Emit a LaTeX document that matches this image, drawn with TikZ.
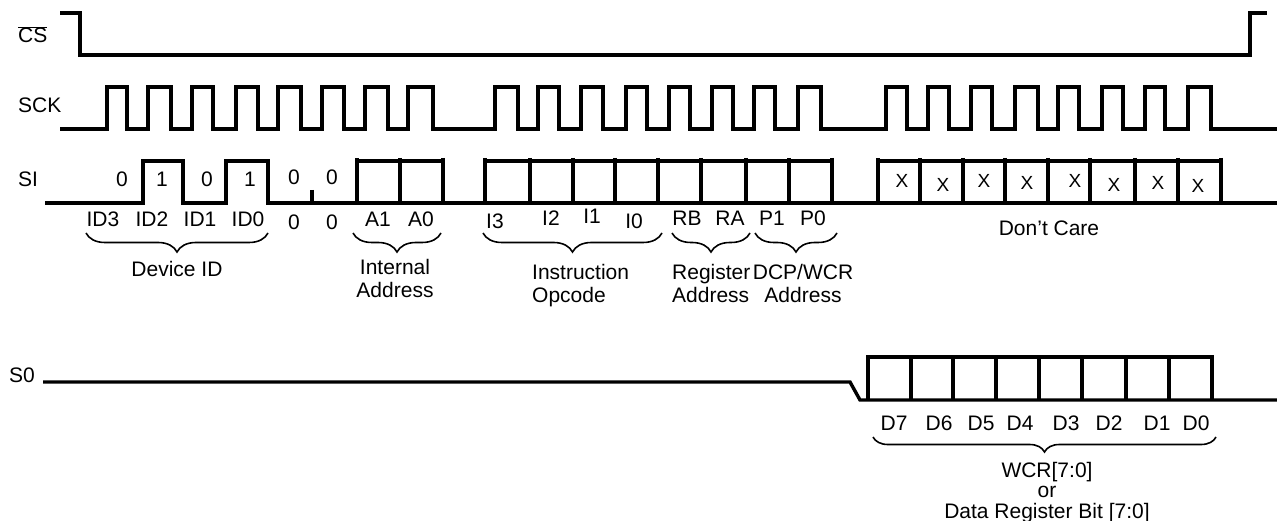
\documentclass[tikz,border=0pt]{standalone}
\usepackage{fontspec}
\setmainfont{Liberation Sans}
\usetikzlibrary{decorations.pathreplacing}

\tikzset{
	wave/.style={line width=3.4pt},
	lbl/.style={font=\fontsize{21}{23}\selectfont,inner sep=0pt,anchor=base},
	brc/.style={decorate,decoration={brace,mirror,amplitude=#1},line width=1.6pt},
}

\begin{document}
\begin{tikzpicture}[x=1pt,y=-1pt]
	\useasboundingbox (0,0) rectangle (1277,521);

	% signal names
	\node[lbl,anchor=base west](csName) at (18,43){$\overline{\hbox{CS}}$};
	\node[lbl,anchor=base west](sckName) at (18,113){SCK};
	\node[lbl,anchor=base west](siName) at (18,187){SI};
	\node[lbl,anchor=base west](soName) at (9,382){S0};

	% CS and SCK
	\draw[wave] (60,13) -- (80,13) -- (80,55) -- (1250,55) -- (1250,13) -- (1267,13);
	\draw[wave] (60,129) foreach \r/\f in {107/127,148/171,192/213,236/258,278/301,322/344,365/388,408/433,
		495/518,538/559,581/603,626/647,669/690,712/733,754/775,798/821,
		886/907,928/949,971/992,1015/1038,1058/1079,1102/1123,1145/1165,1188/1211}
		{ -- (\r,129) -- (\r,87) -- (\f,87) -- (\f,129) } -- (1277,129);

	% SI
	\draw[wave] (45,203) -- (143,203) -- (143,161) -- (183,161) -- (183,203) -- (226,203)
		-- (226,161) -- (268,161) -- (268,203) -- (1277,203);
	\draw[wave] (312,190) -- (312,203);
	\foreach \l/\r in {357/400,400/443,485/530,530/573,573/615,615/658,658/701,701/746,746/789,789/832,
		878/920,920/963,963/1005,1005/1048,1048/1090,1090/1135,1135/1178,1178/1221}
		\draw[wave] (\l,203) -- (\l,158) (\l,161) -- (\r,161) (\r,158) -- (\r,203);

	% S0
	\draw[wave] (43,382) -- (850,382) -- (860,400) -- (1277,400);
	\foreach \l/\r in {868/911,911/953,953/996,996/1039,1039/1082,1082/1126,1126/1169,1169/1212}
		\draw[wave] (\l,400) -- (\l,357) -- (\r,357) -- (\r,400);

	% bits on SI
	\foreach \x/\y/\t [count=\i] in {122/187/0,162/187/1,207/187/0,250/187/1,294/185/0,332/185/0}
		\node[lbl](bit\i) at (\x,\y){\t};
	\foreach \x/\y [count=\i] in {902/188,943/192,984/188,1027/190,1075/188,1114/192,1158/190,1198/193}
		\node[lbl,font=\fontsize{19}{21}\selectfont](dc\i) at (\x,\y){X};

	% bit names
	\node[lbl](id3) at (103,227){ID3};
	\node[lbl](id2) at (152,227){ID2};
	\node[lbl](id1) at (200,227){ID1};
	\node[lbl](id0) at (248,227){ID0};
	\node[lbl](zeroA) at (294,230){0};
	\node[lbl](zeroB) at (332,230){0};
	\node[lbl](a1) at (378,227){A1};
	\node[lbl](a0) at (421,227){A0};
	\node[lbl](i3) at (495,229){I3};
	\node[lbl](i2) at (551,226){I2};
	\node[lbl](i1) at (592,224){I1};
	\node[lbl](i0) at (634,229){I0};
	\node[lbl](rb) at (687,226){RB};
	\node[lbl](ra) at (730,226){RA};
	\node[lbl](p1) at (772,226){P1};
	\node[lbl](p0) at (813,226){P0};
	\foreach \x/\t in {894/7,939/6,981/5,1020/4,1066/3,1109/2,1157/1,1196/0}
		\node[lbl](d\t) at (\x,430){D\t};

	% braces
	\draw[brc=19pt] (86,233) -- (268,233);
	\draw[brc=19pt] (353,233) -- (441,233);
	\draw[brc=19pt] (483,233) -- (662,233);
	\draw[brc=19pt] (672,233) -- (750,233);
	\draw[brc=19pt] (755,233) -- (837,233);
	\draw[brc=15pt] (873,437) -- (1216,437);

	% field names
	\node[lbl](devId) at (177,277){Device ID};
	\node[lbl,align=center](intAddr) at (395,298){Internal\\Address};
	\node[lbl,align=left,anchor=base west](opcode) at (532,302){Instruction\\Opcode};
	\node[lbl,align=left,anchor=base west](regAddr) at (672,302){Register\\Address};
	\node[lbl,align=center](wcrAddr) at (803,302){DCP/WCR\\Address};
	\node[lbl](dontCare) at (1049,236){Don’t Care};
	\node[lbl,align=center,font=\fontsize{21}{20.5}\selectfont](dataReg) at (1047,518){WCR[7:0]\\or\\Data Register Bit [7:0]};
\end{tikzpicture}
\end{document}
